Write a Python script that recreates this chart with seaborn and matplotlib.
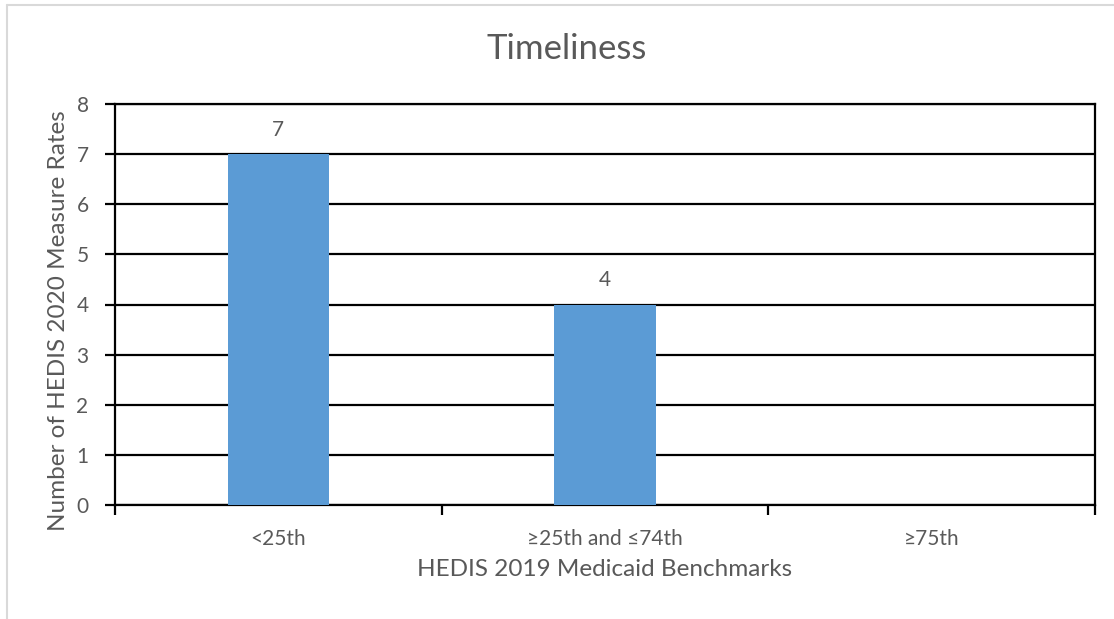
import matplotlib
matplotlib.use("Agg")
import matplotlib.pyplot as plt
import seaborn as sns
import pandas as pd

categories = ["<25th", "≥25th and ≤74th", "≥75th"]
counts = [7, 4, 0]

sns.set_theme(style="white")
plt.rcParams["font.family"] = ["Lato", "DejaVu Sans"]

text_color = "#595959"
bar_color = "#5B9BD5"

df = pd.DataFrame({"benchmark": categories, "count": counts})

fig = plt.figure(figsize=(11.14, 6.19), dpi=100)
ax = fig.add_axes([115 / 1114, 1 - 505 / 619, (1095 - 115) / 1114, (505 - 104) / 619])

sns.barplot(data=df, x="benchmark", y="count", color=bar_color, width=0.31,
            saturation=1, linewidth=0, ax=ax, zorder=3)

ax.set_ylim(0, 8)
ax.set_xlim(-0.5, 2.5)
ax.set_yticks(range(0, 9))
ax.yaxis.grid(True, color="black", linewidth=1.6, zorder=0)
ax.set_axisbelow(True)

# category boundary ticks on the x axis
ax.set_xticks([-0.5, 0.5, 1.5, 2.5])
ax.set_xticklabels([])
ax.set_xticks([0, 1, 2], minor=True)
ax.set_xticklabels(categories, minor=True)
ax.tick_params(axis="x", which="major", direction="out", length=7, width=1.6, color="black")
ax.tick_params(axis="x", which="minor", length=0, pad=17, labelsize=15, labelcolor=text_color)
ax.tick_params(axis="y", direction="out", length=7, width=1.6, color="black",
               labelsize=15, labelcolor=text_color, pad=12)
ax.tick_params(left=True, bottom=True)

for side in ["left", "bottom", "right", "top"]:
    ax.spines[side].set_visible(True)
    ax.spines[side].set_color("black")
    ax.spines[side].set_linewidth(1.6)

for i, v in enumerate(counts):
    if v > 0:
        ax.text(i, v + 0.28, str(v), ha="center", va="bottom",
                fontsize=15, color=text_color)

ax.set_xlabel("HEDIS 2019 Medicaid Benchmarks", fontsize=17.5, color=text_color)
ax.set_ylabel("Number of HEDIS 2020 Measure Rates", fontsize=17.5, color=text_color)
ax.xaxis.set_label_coords(0.5, -0.135)
ax.yaxis.set_label_coords(-0.047, 0.461)
fig.text(567 / 1114, 1 - 49 / 619, "Timeliness", ha="center", va="center",
         fontsize=25, color=text_color)

# light frame around the chart area
fig.add_artist(plt.Line2D([7 / 1114, 7 / 1114], [0, 1 - 5 / 619],
                          transform=fig.transFigure, color="#d9d9d9", linewidth=1.5))
fig.add_artist(plt.Line2D([7 / 1114, 1], [1 - 5 / 619, 1 - 5 / 619],
                          transform=fig.transFigure, color="#d9d9d9", linewidth=1.5))

fig.savefig("out.png", dpi=100)
